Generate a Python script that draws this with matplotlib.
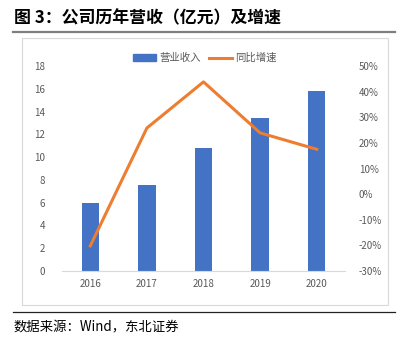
import matplotlib
matplotlib.use("Agg")
import matplotlib.pyplot as plt
from matplotlib.lines import Line2D
from matplotlib.patches import Rectangle
from matplotlib.ticker import FuncFormatter

plt.rcParams['font.family'] = ['Noto Sans CJK SC', 'DejaVu Sans']

years = ['2016', '2017', '2018', '2019', '2020']
revenue = [6.0, 7.55, 10.8, 13.4, 15.8]
growth = [-20.2, 25.8, 43.8, 23.9, 17.5]
left_ticks = [0, 2, 4, 6, 8, 10, 12, 14, 16, 18]
right_ticks = [-30, -20, -10, 0, 10, 20, 30, 40, 50]

W, H = 406, 340
fig = plt.figure(figsize=(W / 100, H / 100), dpi=100)

def fx(px):
    return px / W

def fy(py):
    return 1 - py / H

# Title
fig.text(fx(14), fy(18), '图 3：公司历年营收（亿元）及增速', fontsize=12.2,
         fontweight='bold', va='center', ha='left', color='black')
fig.add_artist(Line2D([fx(13), fx(395)], [fy(32), fy(32)], color='#7f7f7f', lw=1.6))
# chart border
fig.add_artist(Rectangle((fx(22), fy(305)), fx(388) - fx(22), fy(38) - fy(305),
                         fill=False, ec='#d9d9d9', lw=0.8))
fig.add_artist(Line2D([fx(13), fx(395)], [fy(312), fy(312)], color='#222222', lw=0.9))
fig.text(fx(14), fy(327), '数据来源：Wind，东北证券', fontsize=9.6, va='center', ha='left', color='black')

ax = fig.add_axes([fx(62), fy(271), fx(345) - fx(62), fy(66) - fy(271)])
x = range(len(years))
bars = ax.bar(x, revenue, width=0.31, color='#4472C4', zorder=2)
ax.set_xlim(-0.5, 4.5)
ax.set_ylim(0, 18)
ax.set_yticks(left_ticks)
ax.set_xticks(list(x))
ax.set_xticklabels(years)
for s in ['top', 'right', 'left']:
    ax.spines[s].set_visible(False)
ax.spines['bottom'].set_color('#d9d9d9')
ax.tick_params(axis='both', length=0, labelsize=7, labelcolor='#595959')
ax.tick_params(axis='y', pad=12)
ax.tick_params(axis='x', pad=6)

ax2 = ax.twinx()
ln, = ax2.plot(list(x), growth, color='#ED7D31', lw=2.2, zorder=3)
ax2.set_ylim(-30, 50)
ax2.set_yticks(right_ticks)
ax2.yaxis.set_major_formatter(FuncFormatter(lambda v, p: f'{int(v)}%'))
for s in ['top', 'right', 'left', 'bottom']:
    ax2.spines[s].set_visible(False)
ax2.tick_params(axis='y', length=0, labelsize=7, labelcolor='#595959', pad=10)

handles = [Rectangle((0, 0), 1, 1, color='#4472C4'),
           Line2D([0], [0], color='#ED7D31', lw=2.2)]
fig.legend(handles, ['营业收入', '同比增速'], loc='center', bbox_to_anchor=(fx(205), fy(58)),
           ncol=2, frameon=False, fontsize=7.5, labelcolor='#595959',
           handlelength=2.2, handleheight=0.6, columnspacing=0.8, handletextpad=0.3)

fig.savefig('out.png', dpi=100)
